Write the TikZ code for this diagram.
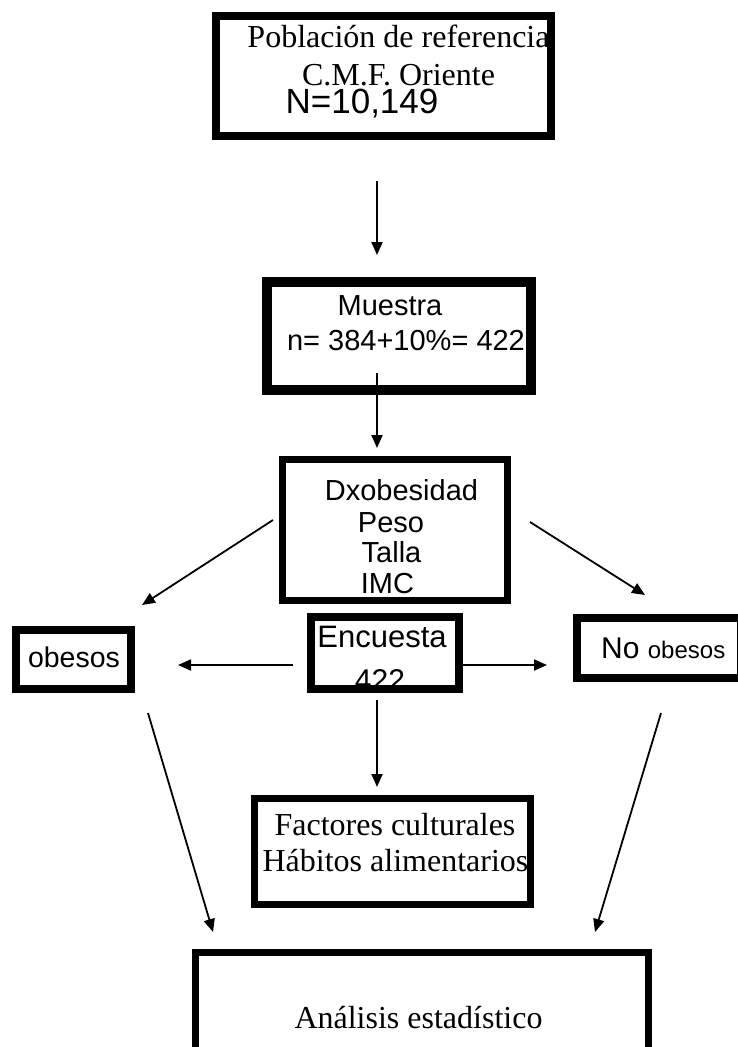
\documentclass[tikz,border=0pt]{standalone}
\usepackage{fontspec}
\setmainfont{Liberation Serif}
\newfontfamily\hsans{Liberation Sans}
\usetikzlibrary{arrows.meta}
\begin{document}
\begin{tikzpicture}[x=1pt,y=-1pt,
  box/.style={draw, line width=#1, inner sep=0pt, rectangle},
  conn/.style={line width=1.8pt, -{Triangle[length=13pt,width=11pt]}},
  serif/.style={font=\fontsize{32}{36}\selectfont, inner sep=0pt, anchor=base},
  sans/.style={font=\hsans\fontsize{#1}{#1}\selectfont, inner sep=0pt, anchor=base},
]
\path[use as bounding box] (0,0) rectangle (738,1047);
\begin{scope}
\clip (0,0) rectangle (738,1047);
% boxes
\node[box=8pt, minimum width=335pt, minimum height=120pt] (pob) at (383.5,76) {};
\node[box=10pt, minimum width=264pt, minimum height=108pt] (mue) at (399,336) {};
\node[box=7pt, minimum width=225pt, minimum height=141pt] (dx) at (395,530) {};
\node[box=8pt, minimum width=115pt, minimum height=59pt] (obe) at (73.5,659.5) {};
\node[box=8pt, minimum width=148pt, minimum height=72pt] (enc) at (385,653) {};
\node[box=8pt, minimum width=164pt, minimum height=60pt] (noobe) at (659,648) {};
\node[box=7pt, minimum width=276pt, minimum height=106pt] (fac) at (392.5,851.5) {};
\node[box=7pt, minimum width=453pt, minimum height=124pt] (ana) at (422,1014.5) {};
% texts
\node[serif] (t1) at (398.5,47) {Población de referencia};
\node[serif] (t2) at (398.5,85) {C.M.F. Oriente};
\node[sans=35] (t3) at (362,113) {N=10,149};
\node[sans=29] (t4) at (390,315) {Muestra};
\node[sans=29] (t5) at (406,350) {n= 384+10\%= 422};
\node[sans=29] (t6) at (401.5,500) {Dxobesidad};
\node[sans=29] (t7) at (391,532) {Peso};
\node[sans=29] (t8) at (391.5,562) {Talla};
\node[sans=29] (t9) at (387.5,593) {IMC};
\node[sans=28.5] (t10) at (74,667) {obesos};
\node[sans=31] (t11) at (382,647) {Encuesta};
\begin{scope}
\clip (311,617) rectangle (459,685);
\node[sans=30] (t12) at (380,690) {422};
\end{scope}
\node[sans=30, anchor=base west] (t13) at (601,658) {No {\fontsize{24}{24}\selectfont obesos}};
\node[serif] (t14) at (395,835) {Factores culturales};
\node[serif] (t15) at (395.5,871) {Hábitos alimentarios};
\node[serif] (t16) at (418.5,1028) {Análisis estadístico};
% connector ends
\coordinate (a1s) at (377,181); \coordinate (a1e) at (377,255);
\coordinate (a2s) at (377,373); \coordinate (a2e) at (377,448);
\coordinate (a3s) at (273,520); \coordinate (a3e) at (142,605);
\coordinate (a4s) at (530,522); \coordinate (a4e) at (645,595);
\coordinate (a5s) at (293,665); \coordinate (a5e) at (178,665);
\coordinate (a6s) at (462,665); \coordinate (a6e) at (547,665);
\coordinate (a7s) at (377,700); \coordinate (a7e) at (377,787);
\coordinate (a8s) at (148,713); \coordinate (a8e) at (213,932);
\coordinate (a9s) at (661,713); \coordinate (a9e) at (595,932);
\foreach \i in {1,...,9} \draw[conn] (a\i s) -- (a\i e);
\end{scope}
\end{tikzpicture}
\end{document}
